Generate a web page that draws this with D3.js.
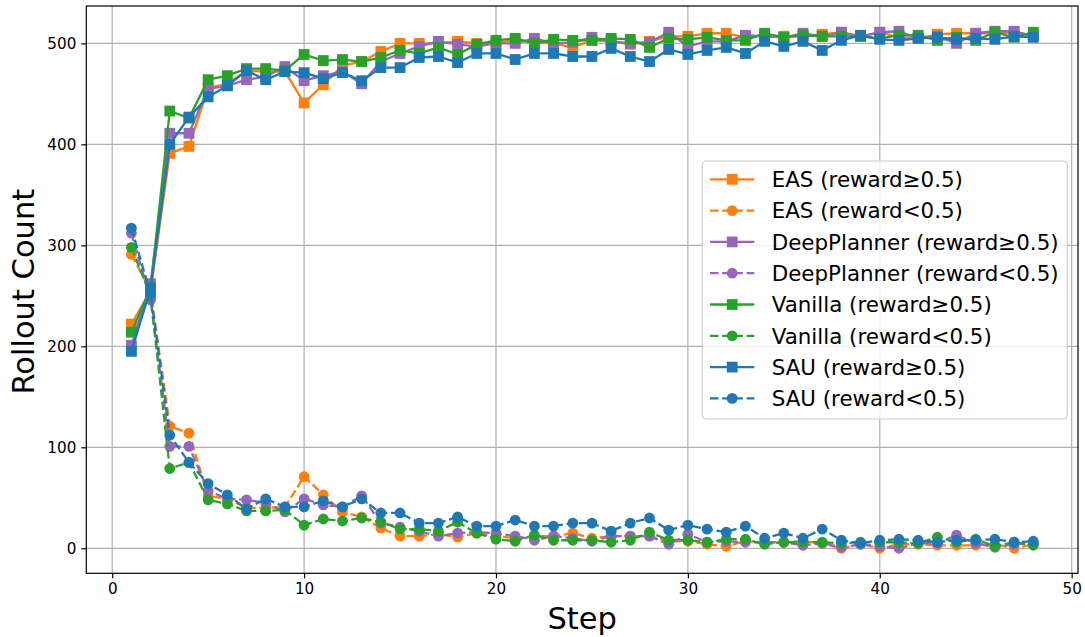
<!DOCTYPE html>
<html><head><meta charset="utf-8">
<script src="https://cdn.jsdelivr.net/npm/d3@7"></script>
<style>
html,body{margin:0;padding:0;background:#fff;}
svg{display:block;font-family:"DejaVu Sans",sans-serif;}
</style></head>
<body><svg id="c" width="1085" height="637"></svg>
<script>
const steps = d3.range(1, 49);
const xTicks = [0, 10, 20, 30, 40, 50];
const yTicks = [0, 100, 200, 300, 400, 500];

const easHigh = [222,255,391,398,456,460,473,472,472,441,459,478,482,492,500,500,500,502,500,501,503,501,500,496,503,502,499,502,507,507,510,510,506,508,507,507,509,511,507,511,506,505,509,510,510,510,511,508];
const easLow = [291,255,121,114,52,49,40,40,41,71,53,36,31,20,12,12,14,11,15,12,10,12,12,15,10,12,12,12,7,7,4,2,7,6,6,7,5,0,4,0,4,4,3,3,3,4,0,4];
const dpHigh = [201,262,411,411,455,458,464,467,477,463,468,472,460,482,490,497,502,499,497,500,500,505,500,501,506,502,500,501,511,497,502,502,508,507,506,510,507,511,507,511,512,505,507,500,510,512,512,507];
const dpLow = [312,246,101,101,57,49,48,45,36,49,43,41,52,25,21,17,12,15,16,15,12,8,12,10,7,12,12,12,4,14,6,7,6,6,6,3,5,1,4,2,0,5,5,13,5,1,4,5];
const vanHigh = [214,258,433,426,464,468,475,475,473,489,483,484,482,486,493,490,496,489,499,503,505,500,504,503,503,505,504,496,505,504,506,503,503,510,506,508,507,507,507,505,508,508,503,506,503,511,506,511];
const vanLow = [298,250,79,85,48,44,37,37,38,23,29,27,30,26,19,19,17,26,15,9,7,13,8,8,8,6,8,16,8,8,6,9,9,4,6,6,6,5,6,6,6,5,11,6,9,2,6,3];
const sauHigh = [195,257,400,427,447,458,473,464,472,471,465,471,463,476,476,486,487,481,490,490,484,490,490,487,487,495,487,482,494,489,493,496,490,502,497,502,493,503,508,504,503,505,506,504,505,504,507,506];
const sauLow = [317,252,112,85,64,53,39,49,41,41,47,41,49,35,35,25,25,31,22,22,28,22,22,25,25,17,25,30,18,23,19,16,22,10,15,10,19,8,5,8,9,8,6,8,8,9,6,7];

const seriesNames = ["EAS (reward\u22650.5)","EAS (reward<0.5)","DeepPlanner (reward\u22650.5)","DeepPlanner (reward<0.5)","Vanilla (reward\u22650.5)","Vanilla (reward<0.5)","SAU (reward\u22650.5)","SAU (reward<0.5)"];
const seriesData = [easHigh, easLow, dpHigh, dpLow, vanHigh, vanLow, sauHigh, sauLow];
const seriesColors = ["#ff7f0e","#ff7f0e","#9467bd","#9467bd","#2ca02c","#2ca02c","#1f77b4","#1f77b4"];
const seriesDashed = [false,true,false,true,false,true,false,true];

const svg = d3.select("#c");
const L = 86.3, R = 1078, T = 6, B = 573.3;
const x = d3.scaleLinear().domain([-1.35, 50.33]).range([L, R]);
const y = d3.scaleLinear().domain([-24.75, 537]).range([B, T]);

// grid
const g = svg.append("g");
g.selectAll(".gx").data(xTicks).enter().append("line")
  .attr("x1", d => x(d)).attr("x2", d => x(d)).attr("y1", T).attr("y2", B)
  .attr("stroke", "#b0b0b0").attr("stroke-width", 1.2);
g.selectAll(".gy").data(yTicks).enter().append("line")
  .attr("y1", d => y(d)).attr("y2", d => y(d)).attr("x1", L).attr("x2", R)
  .attr("stroke", "#b0b0b0").attr("stroke-width", 1.2);

// axes
const xAxis = svg.append("g").attr("transform", `translate(0,${B})`)
  .call(d3.axisBottom(x).tickValues(xTicks).tickSize(5).tickPadding(5).tickFormat(d3.format("d")));
const yAxis = svg.append("g").attr("transform", `translate(${L},0)`)
  .call(d3.axisLeft(y).tickValues(yTicks).tickSize(5).tickPadding(5).tickFormat(d3.format("d")));
[xAxis, yAxis].forEach(a => {
  a.select(".domain").remove();
  a.selectAll(".tick line").attr("stroke", "#000").attr("stroke-width", 1.2);
  a.selectAll(".tick text").attr("fill", "#000").style("font-size", "15.2px").style("font-family", "DejaVu Sans");
});

// lines
const lineGen = d3.line().x((d, i) => x(steps[i])).y(d => y(d));
const plot = svg.append("g");
seriesData.forEach((data, k) => {
  const col = seriesColors[k];
  plot.append("path").datum(data).attr("d", lineGen)
    .attr("fill", "none").attr("stroke", col).attr("stroke-width", 2.3)
    .attr("stroke-linejoin", "round")
    .attr("stroke-dasharray", seriesDashed[k] ? "8.5,3.7" : null);
  if (seriesDashed[k]) {
    plot.selectAll(null).data(data).enter().append("circle")
      .attr("cx", (d, i) => x(steps[i])).attr("cy", d => y(d)).attr("r", 5.4)
      .attr("fill", col);
  } else {
    plot.selectAll(null).data(data).enter().append("rect")
      .attr("x", (d, i) => x(steps[i]) - 5.4).attr("y", d => y(d) - 5.4)
      .attr("width", 10.8).attr("height", 10.8).attr("fill", col);
  }
});

// spines
svg.append("rect").attr("x", L).attr("y", T).attr("width", R - L).attr("height", B - T)
  .attr("fill", "none").attr("stroke", "#000").attr("stroke-width", 1.2);

// axis labels
svg.append("text").attr("x", (L + R) / 2).attr("y", 628.5).attr("text-anchor", "middle")
  .style("font-size", "30.5px").text("Step");
svg.append("text").attr("transform", `translate(33.5,${(T + B) / 2 + 2}) rotate(-90)`).attr("text-anchor", "middle")
  .style("font-size", "30.5px").text("Rollout Count");

// legend
const lg = svg.append("g");
lg.append("rect").attr("x", 702.3).attr("y", 161).attr("width", 365).attr("height", 258)
  .attr("rx", 4).attr("fill", "#fff").attr("fill-opacity", 0.8)
  .attr("stroke", "#cccccc").attr("stroke-width", 1.2);
seriesNames.forEach((name, k) => {
  const cy = 179.3 + k * 31.3;
  const col = seriesColors[k];
  lg.append("line").attr("x1", 710).attr("x2", 754.3).attr("y1", cy).attr("y2", cy)
    .attr("stroke", col).attr("stroke-width", 2.3)
    .attr("stroke-dasharray", seriesDashed[k] ? "8.5,3.7" : null);
  if (seriesDashed[k]) lg.append("circle").attr("cx", 732.2).attr("cy", cy).attr("r", 5.4).attr("fill", col);
  else lg.append("rect").attr("x", 732.2 - 5.4).attr("y", cy - 5.4).attr("width", 10.8).attr("height", 10.8).attr("fill", col);
  lg.append("text").attr("x", 771.7).attr("y", cy).attr("dy", "0.36em")
    .style("font-size", "21.4px").attr("fill", "#000").text(name);
});
</script></body></html>
